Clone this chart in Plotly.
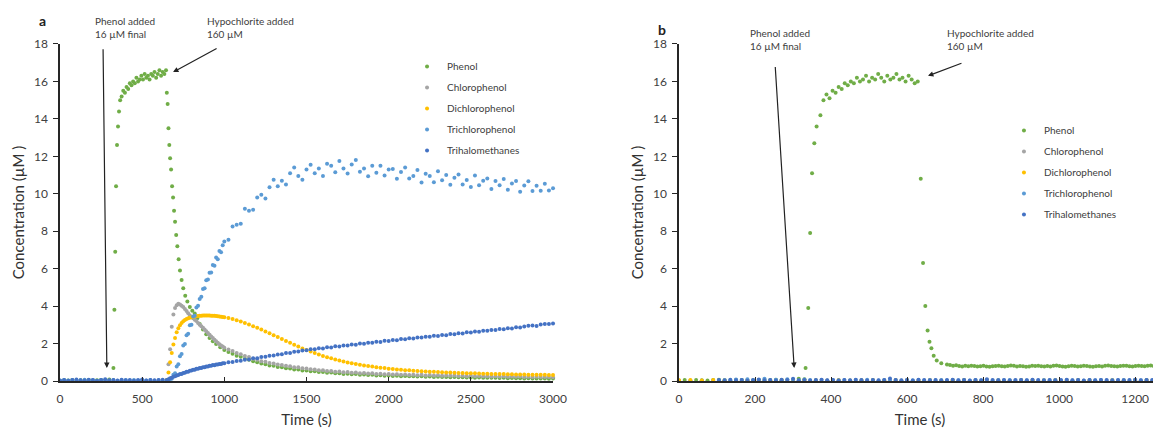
import plotly.graph_objects as go

# ---------------- Panel a data ----------------
T_A = list(range(0, 650, 25)) + list(range(650, 1000, 10)) + list(range(1000, 3001, 25))
N_PRE_A = 26

PHENOL_A_T = (list(range(0, 301, 25)) + [325, 331, 336, 341, 347, 353, 359, 366]
              + list(range(375, 646, 10))
              + [650, 655, 660, 665, 670, 676, 682, 688, 694, 700, 707, 714, 722, 730, 740,
                 750, 762, 775, 790, 805, 820, 835, 850, 870, 890, 910, 930, 950, 975, 1000]
              + list(range(1025, 3001, 25)))
PHENOL_A = ([0.02, 0.04, 0.03, 0.05, 0.02, 0.04, 0.03, 0.05, 0.02, 0.04, 0.06, 0.03, 0.08]
            + [0.7, 3.8, 6.9, 10.4, 12.6, 13.6, 14.4, 15.0]
            + [15.2, 15.5, 15.4, 15.7, 15.6, 15.9, 15.8, 16.0, 15.9, 16.2,
               16.0, 16.1, 16.3, 16.1, 16.4, 16.2, 16.3, 16.1, 16.4, 16.3,
               16.5, 16.2, 16.4, 16.6, 16.3, 16.5, 16.4, 16.6]
            + [15.4, 14.8, 13.5, 12.6, 11.9, 11.3, 10.4, 9.8, 9.1, 8.5,
               7.8, 7.2, 6.5, 5.9, 5.4, 4.95, 4.55, 4.25, 3.95, 3.75,
               3.6, 3.35, 3.05, 2.75, 2.5, 2.3, 2.12, 1.98, 1.8, 1.65]
            + [1.55, 1.46, 1.35, 1.29, 1.19, 1.14, 1.05, 1.0, 0.93, 0.9,
               0.83, 0.81, 0.75, 0.73, 0.68, 0.67, 0.62, 0.61, 0.56, 0.56,
               0.52, 0.52, 0.48, 0.48, 0.44, 0.45, 0.41, 0.42, 0.38, 0.39,
               0.36, 0.37, 0.34, 0.35, 0.32, 0.33, 0.3, 0.31, 0.28, 0.29,
               0.27, 0.28, 0.26, 0.27, 0.25, 0.26, 0.24, 0.25, 0.23, 0.24,
               0.22, 0.23, 0.21, 0.22, 0.2, 0.21, 0.2, 0.2, 0.19, 0.19,
               0.18, 0.19, 0.17, 0.18, 0.17, 0.17, 0.16, 0.17, 0.15, 0.16,
               0.15, 0.15, 0.14, 0.15, 0.14, 0.14, 0.13, 0.14, 0.12, 0.13])

CHLORO_A = ([0.05, 0.9, 1.7, 2.9, 3.55, 3.9, 4.05, 4.12, 4.08, 4.02,
             3.95, 3.85, 3.74, 3.62, 3.5, 3.42, 3.35, 3.27, 3.2, 3.1,
             3.0, 2.92, 2.85, 2.75, 2.66, 2.56, 2.47, 2.38, 2.3, 2.2,
             2.12, 2.04, 1.97, 1.9, 1.84]
            + [1.78, 1.68, 1.6, 1.49, 1.43, 1.33, 1.28, 1.19, 1.14, 1.06,
               1.03, 0.96, 0.94, 0.88, 0.86, 0.81, 0.79, 0.74, 0.73, 0.68,
               0.67, 0.63, 0.62, 0.58, 0.58, 0.54, 0.54, 0.5, 0.51, 0.47,
               0.48, 0.44, 0.45, 0.42, 0.43, 0.4, 0.41, 0.38, 0.39, 0.36,
               0.37]
            + [0.35, 0.36, 0.34, 0.35, 0.32, 0.34, 0.31, 0.33, 0.3, 0.32,
               0.29, 0.31, 0.28, 0.3, 0.28, 0.29, 0.27, 0.28, 0.26, 0.28,
               0.25, 0.27, 0.25, 0.26, 0.24, 0.26, 0.24, 0.25, 0.23, 0.24,
               0.23, 0.24, 0.22, 0.23, 0.22, 0.23, 0.21, 0.22, 0.21, 0.2])

DICHLORO_A = ([0.05, 0.45, 1.0, 1.5, 1.95, 2.3, 2.6, 2.82, 2.98, 3.1,
               3.19, 3.26, 3.31, 3.35, 3.38, 3.41, 3.43, 3.45, 3.46, 3.47,
               3.48, 3.49, 3.5, 3.5, 3.5, 3.5, 3.5, 3.49, 3.49, 3.48,
               3.47, 3.46, 3.45, 3.43, 3.42]
              + [3.4, 3.36, 3.31, 3.25, 3.18, 3.1, 3.02, 2.93, 2.84, 2.75,
                 2.65, 2.55, 2.45, 2.35, 2.25, 2.14, 2.04, 1.94, 1.84, 1.74,
                 1.65, 1.57, 1.49, 1.41, 1.34, 1.27, 1.21, 1.15, 1.09, 1.04,
                 0.99, 0.95, 0.91, 0.87, 0.83, 0.8, 0.77, 0.74, 0.71, 0.69,
                 0.66]
              + [0.64, 0.62, 0.6, 0.58, 0.57, 0.55, 0.54, 0.52, 0.51, 0.5,
                 0.49, 0.48, 0.47, 0.46, 0.45, 0.44, 0.43, 0.43, 0.42, 0.41,
                 0.41, 0.4, 0.39, 0.39, 0.38, 0.38, 0.37, 0.37, 0.36, 0.36,
                 0.35, 0.35, 0.35, 0.34, 0.34, 0.33, 0.33, 0.33, 0.32, 0.32])

TRICHLORO_A = ([0.02, 0.05, 0.03, 0.06, 0.02, 0.04, 0.07, 0.03, 0.05, 0.02,
                0.06, 0.04, 0.03, 0.05, 0.02, 0.04, 0.06, 0.03, 0.05, 0.02,
                0.04, 0.03, 0.06, 0.02, 0.04, 0.03]
               + [0.02, 0.06, 0.1, 0.12, 0.34, 0.42, 0.78, 0.9, 1.32, 1.44,
                  1.9, 1.98, 2.45, 2.52, 2.98, 3.0, 3.45, 3.48, 3.92, 4.02,
                  4.38, 4.5, 4.92, 4.95, 5.38, 5.42, 5.78, 5.8, 6.2, 6.15,
                  6.6, 6.5, 6.95, 6.88, 7.25]
               + [7.45, 7.55, 8.25, 8.35, 8.4, 9.2, 9.1, 9.15, 9.8, 9.95,
                  9.75, 10.35, 10.75, 10.4, 10.7, 10.5, 11.1, 11.4, 10.95, 10.75,
                  11.3, 11.55, 11.1, 11.35, 10.95, 11.6, 11.5, 11.15, 11.75, 11.35,
                  11.08, 11.56, 11.8, 11.18, 11.35, 10.93, 11.5, 11.12, 11.5, 10.98,
                  11.3]
               + [11.32, 10.8, 11.17, 11.4, 10.82, 10.95, 11.27, 10.6, 11.07, 10.95,
                  10.62, 11.2, 10.72, 11.0, 10.48, 10.85, 11.03, 10.5, 10.73, 10.36,
                  10.98, 10.46, 10.69, 10.82, 10.25, 10.68, 10.46, 10.79, 10.22, 10.55,
                  10.68, 10.11, 10.44, 10.67, 10.15, 10.43, 10.16, 10.54, 10.17, 10.3])

THM_A = ([0.03, 0.06, 0.02, 0.05, 0.08, 0.04, 0.03, 0.07, 0.05, 0.02,
          0.06, 0.09, 0.04, 0.05, 0.03, 0.07, 0.04, 0.06, 0.02, 0.05,
          0.08, 0.03, 0.06, 0.04, 0.05, 0.07]
         + [0.06, 0.1, 0.15, 0.17, 0.23, 0.25, 0.3, 0.32, 0.37, 0.38,
            0.43, 0.44, 0.49, 0.5, 0.55, 0.56, 0.6, 0.6, 0.65, 0.65,
            0.69, 0.69, 0.73, 0.73, 0.77, 0.77, 0.81, 0.81, 0.85, 0.84,
            0.88, 0.88, 0.91, 0.91, 0.95]
         + [0.95, 1.0, 1.01, 1.07, 1.08, 1.14, 1.15, 1.21, 1.22, 1.28,
            1.29, 1.35, 1.36, 1.42, 1.43, 1.49, 1.5, 1.56, 1.57, 1.63, 1.64]
         + [1.7, 1.69, 1.75, 1.74, 1.8, 1.79, 1.85, 1.84, 1.9, 1.89,
            1.95, 1.94, 2.0, 1.99, 2.05, 2.04, 2.1, 2.09, 2.15, 2.14]
         + [2.19, 2.18, 2.24, 2.23, 2.28, 2.27, 2.33, 2.32, 2.37, 2.36,
            2.42, 2.41, 2.46, 2.45, 2.51, 2.5, 2.55, 2.54, 2.6, 2.59,
            2.64, 2.63, 2.69, 2.68, 2.73, 2.72, 2.78, 2.77, 2.82, 2.81,
            2.87, 2.86, 2.91, 2.95, 2.97, 2.94, 3.02, 3.05, 3.04, 3.07])

# ---------------- Panel b data ----------------
PHENOL_B_T = (list(range(0, 331, 15)) + [333, 340, 345, 350, 356, 362, 372]
              + list(range(380, 631, 8))
              + [636, 642, 648, 654, 659, 664, 670, 678, 690]
              + list(range(705, 1271, 8)))
PHENOL_B = ([0.03, 0.05, 0.02, 0.06, 0.04, 0.03, 0.05, 0.07, 0.04, 0.02,
             0.05, 0.06, 0.03, 0.04, 0.06, 0.05, 0.03, 0.07, 0.04, 0.05,
             0.08, 0.12, 0.1]
            + [0.7, 3.9, 7.9, 11.1, 12.7, 13.6, 14.2]
            + [15.0, 15.3, 15.1, 15.5, 15.4, 15.7, 15.6, 15.9, 15.8, 16.0,
               15.9, 16.2, 16.0, 16.1, 16.3, 16.0, 16.2, 16.1, 16.4, 16.2,
               16.0, 16.3, 16.1, 16.2, 16.4, 16.1, 16.2, 16.0, 16.3, 16.1,
               15.9, 16.0]
            + [10.8, 6.3, 4.0, 2.7, 2.1, 1.75, 1.35, 1.1, 0.95]
            + [0.88, 0.85, 0.82, 0.84, 0.8, 0.78, 0.81, 0.79, 0.82, 0.8,
               0.77, 0.79, 0.81, 0.78, 0.76, 0.79, 0.8, 0.82, 0.79, 0.77,
               0.8, 0.83, 0.81, 0.78, 0.8, 0.79, 0.76, 0.78, 0.81, 0.8,
               0.82, 0.79, 0.77, 0.8, 0.78, 0.81, 0.83, 0.8, 0.78, 0.76,
               0.79, 0.81, 0.8, 0.77, 0.79, 0.82, 0.8, 0.78, 0.76, 0.79,
               0.8, 0.78, 0.81, 0.83, 0.8, 0.79, 0.77, 0.8, 0.82, 0.81,
               0.79, 0.78, 0.8, 0.82, 0.8, 0.79, 0.81, 0.83, 0.8, 0.82,
               0.84])

T_B0 = list(range(0, 1271, 30))
CHLORO_B = [0.02, 0.03, 0.01, 0.02, 0.03, 0.02, 0.01, 0.03, 0.02, 0.02,
            0.03, 0.01, 0.02, 0.03, 0.02, 0.01, 0.02, 0.03, 0.02, 0.01,
            0.02, 0.03, 0.02, 0.01, 0.02, 0.03, 0.02, 0.02, 0.01, 0.03,
            0.02, 0.01, 0.02, 0.03, 0.02, 0.01, 0.02, 0.03, 0.02, 0.01,
            0.02, 0.03, 0.02]
DICHLORO_B = [0.04, 0.06, 0.03, 0.05, 0.04, 0.02, 0.05, 0.03, 0.04, 0.06,
              0.03, 0.05, 0.04, 0.02, 0.05, 0.03, 0.04, 0.06, 0.03, 0.05,
              0.04, 0.02, 0.05, 0.03, 0.04, 0.06, 0.03, 0.05, 0.04, 0.02,
              0.05, 0.03, 0.04, 0.06, 0.03, 0.05, 0.04, 0.02, 0.05, 0.03,
              0.04, 0.06, 0.03]

T_B = list(range(105, 1271, 15))
TRICHLORO_B = [0.03, 0.06, 0.04, 0.08, 0.05, 0.1, 0.04, 0.06, 0.12, 0.05,
               0.07, 0.04, 0.09, 0.06, 0.03, 0.08, 0.05, 0.04, 0.06, 0.03,
               0.05, 0.04, 0.06, 0.03, 0.05, 0.04, 0.07, 0.05, 0.03, 0.06,
               0.04, 0.05, 0.03, 0.06, 0.04, 0.05, 0.03, 0.06, 0.04, 0.05,
               0.03, 0.06, 0.04, 0.05, 0.03, 0.06, 0.04, 0.05, 0.03, 0.06,
               0.04, 0.05, 0.03, 0.06, 0.04, 0.05, 0.03, 0.06, 0.04, 0.05,
               0.03, 0.06, 0.04, 0.05, 0.03, 0.06, 0.04, 0.05, 0.03, 0.06,
               0.04, 0.05, 0.03, 0.06, 0.04, 0.05, 0.03, 0.06]
THM_B = [0.05, 0.03, 0.07, 0.04, 0.06, 0.02, 0.05, 0.08, 0.04, 0.06,
         0.03, 0.07, 0.05, 0.12, 0.04, 0.06, 0.03, 0.05, 0.07, 0.04,
         0.06, 0.03, 0.05, 0.04, 0.07, 0.05, 0.03, 0.06, 0.04, 0.05,
         0.14, 0.06, 0.04, 0.05, 0.03, 0.07, 0.05, 0.04, 0.06, 0.03,
         0.05, 0.07, 0.04, 0.06, 0.03, 0.05, 0.04, 0.1, 0.06, 0.04,
         0.05, 0.03, 0.06, 0.05, 0.04, 0.07, 0.05, 0.03, 0.06, 0.04,
         0.05, 0.07, 0.04, 0.06, 0.03, 0.05, 0.04, 0.06, 0.05, 0.03,
         0.06, 0.04, 0.05, 0.07, 0.04, 0.06, 0.05, 0.04]

SERIES_NAMES = ["Phenol", "Chlorophenol", "Dichlorophenol", "Trichlorophenol", "Trihalomethanes"]
COLORS = ["#70AD47", "#A5A5A5", "#FFC000", "#5B9BD5", "#4472C4"]

X_TICKS_A = [0, 500, 1000, 1500, 2000, 2500, 3000]
X_TICKS_B = [0, 200, 400, 600, 800, 1000, 1200]
Y_TICKS = [0, 2, 4, 6, 8, 10, 12, 14, 16, 18]

FONT = "Lato, 'Open Sans', sans-serif"
TXT = "#404040"

# Figure sits at an 8px page offset, so it is sized to end exactly at the window edge.
FIG_W, FIG_H = 1153, 422

panel_a = [
    (PHENOL_A_T, PHENOL_A),
    (T_A[N_PRE_A:], CHLORO_A),
    (T_A[N_PRE_A:], DICHLORO_A),
    (T_A, TRICHLORO_A),
    (T_A, THM_A),
]
panel_b = [
    (PHENOL_B_T, PHENOL_B),
    (T_B0, CHLORO_B),
    (T_B0, DICHLORO_B),
    (T_B, TRICHLORO_B),
    (T_B, THM_B),
]

fig = go.Figure()


def add_panel(data, xa, ya, legend, tag):
    for name, color, (xs, ys) in zip(SERIES_NAMES, COLORS, data):
        n = min(len(xs), len(ys))
        fig.add_trace(go.Scatter(
            x=xs[:n], y=ys[:n], mode="markers", name=name,
            marker=dict(color=color, size=4, line=dict(width=0)),
            xaxis=xa, yaxis=ya, legend=legend, legendgroup=tag + name,
            cliponaxis=False,
        ))


add_panel(panel_a, "x", "y", "legend", "a")
add_panel(panel_b, "x2", "y2", "legend2", "b")

axis_common = dict(
    showline=True, linecolor="#262626", linewidth=1.5, showgrid=False, zeroline=False,
    tickfont=dict(family=FONT, size=12, color=TXT), automargin=False,
)
yaxis_common = dict(axis_common, range=[0, 18], tickvals=Y_TICKS, ticks="outside", ticklen=5,
                    tickcolor="#262626", domain=[0.1161, 0.9147], ticklabelstandoff=3)
ytitle = dict(text="Concentration (µM )", font=dict(family=FONT, size=15, color="#333333"), standoff=6)
xtitle = dict(text="Time (s)", font=dict(family=FONT, size=15, color="#333333"), standoff=9)

legend_common = dict(
    xanchor="left", yanchor="top", bgcolor="rgba(0,0,0,0)",
    font=dict(family=FONT, size=10, color=TXT), tracegroupgap=2, itemwidth=30,
)

fig.update_layout(
    width=FIG_W, height=FIG_H, margin=dict(l=0, r=0, t=0, b=0),
    paper_bgcolor="white", plot_bgcolor="white",
    font=dict(family=FONT, color=TXT),
    xaxis=dict(axis_common, domain=[0.0451, 0.4727], range=[0, 3000], tickvals=X_TICKS_A,
               ticks="inside", ticklen=4, tickcolor="#262626", anchor="y", title=xtitle,
               ticklabelstandoff=6),
    yaxis=dict(yaxis_common, anchor="x", title=ytitle),
    xaxis2=dict(axis_common, domain=[0.58196, 1.0], range=[0, 1268], tickvals=X_TICKS_B,
                ticks="inside", ticklen=4, tickcolor="#262626", anchor="y2", title=xtitle,
                ticklabelstandoff=6),
    yaxis2=dict(yaxis_common, anchor="x2", title=ytitle),
    legend=dict(legend_common, x=0.3461, y=0.8957),
    legend2=dict(legend_common, x=0.8638, y=0.744),
    showlegend=True,
)

ann_font = dict(family=FONT, size=10, color=TXT)
annotations = [
    dict(text="<b>a</b>", x=0.0295, y=0.9692, xref="paper", yref="paper", showarrow=False,
         xanchor="center", yanchor="middle",
         font=dict(family=FONT, size=14, color="#222222")),
    dict(text="<b>b</b>", x=0.5672, y=0.9502, xref="paper", yref="paper", showarrow=False,
         xanchor="center", yanchor="middle",
         font=dict(family=FONT, size=14, color="#222222")),
    dict(text="Phenol added<br>16 µM final", x=0.0737, y=0.9538, xref="paper", yref="paper",
         xanchor="left", yanchor="middle", align="left", showarrow=False, font=ann_font),
    dict(text="Hypochlorite added<br>160 µM", x=0.1709, y=0.9538, xref="paper", yref="paper",
         xanchor="left", yanchor="middle", align="left", showarrow=False, font=ann_font),
    dict(text="Phenol added<br>16 µM final", x=0.6418, y=0.9254, xref="paper", yref="paper",
         xanchor="left", yanchor="middle", align="left", showarrow=False, font=ann_font),
    dict(text="Hypochlorite added<br>160 µM", x=0.8127, y=0.9254, xref="paper", yref="paper",
         xanchor="left", yanchor="middle", align="left", showarrow=False, font=ann_font),
]
arrows = [
    ("x", "y", 285, 0.7, 262, 17.8),
    ("x", "y", 688, 16.5, 962, 17.8),
    ("x2", "y2", 303, 0.7, 253, 16.85),
    ("x2", "y2", 655, 16.3, 747, 17.0),
]
for xr, yr, hx, hy, tx, ty in arrows:
    annotations.append(dict(
        text="", x=hx, y=hy, xref=xr, yref=yr, ax=tx, ay=ty, axref=xr, ayref=yr,
        showarrow=True, arrowhead=2, arrowsize=0.9, arrowwidth=1.2, arrowcolor="#222222",
    ))
fig.update_layout(annotations=annotations)

fig.write_html("out.html")
